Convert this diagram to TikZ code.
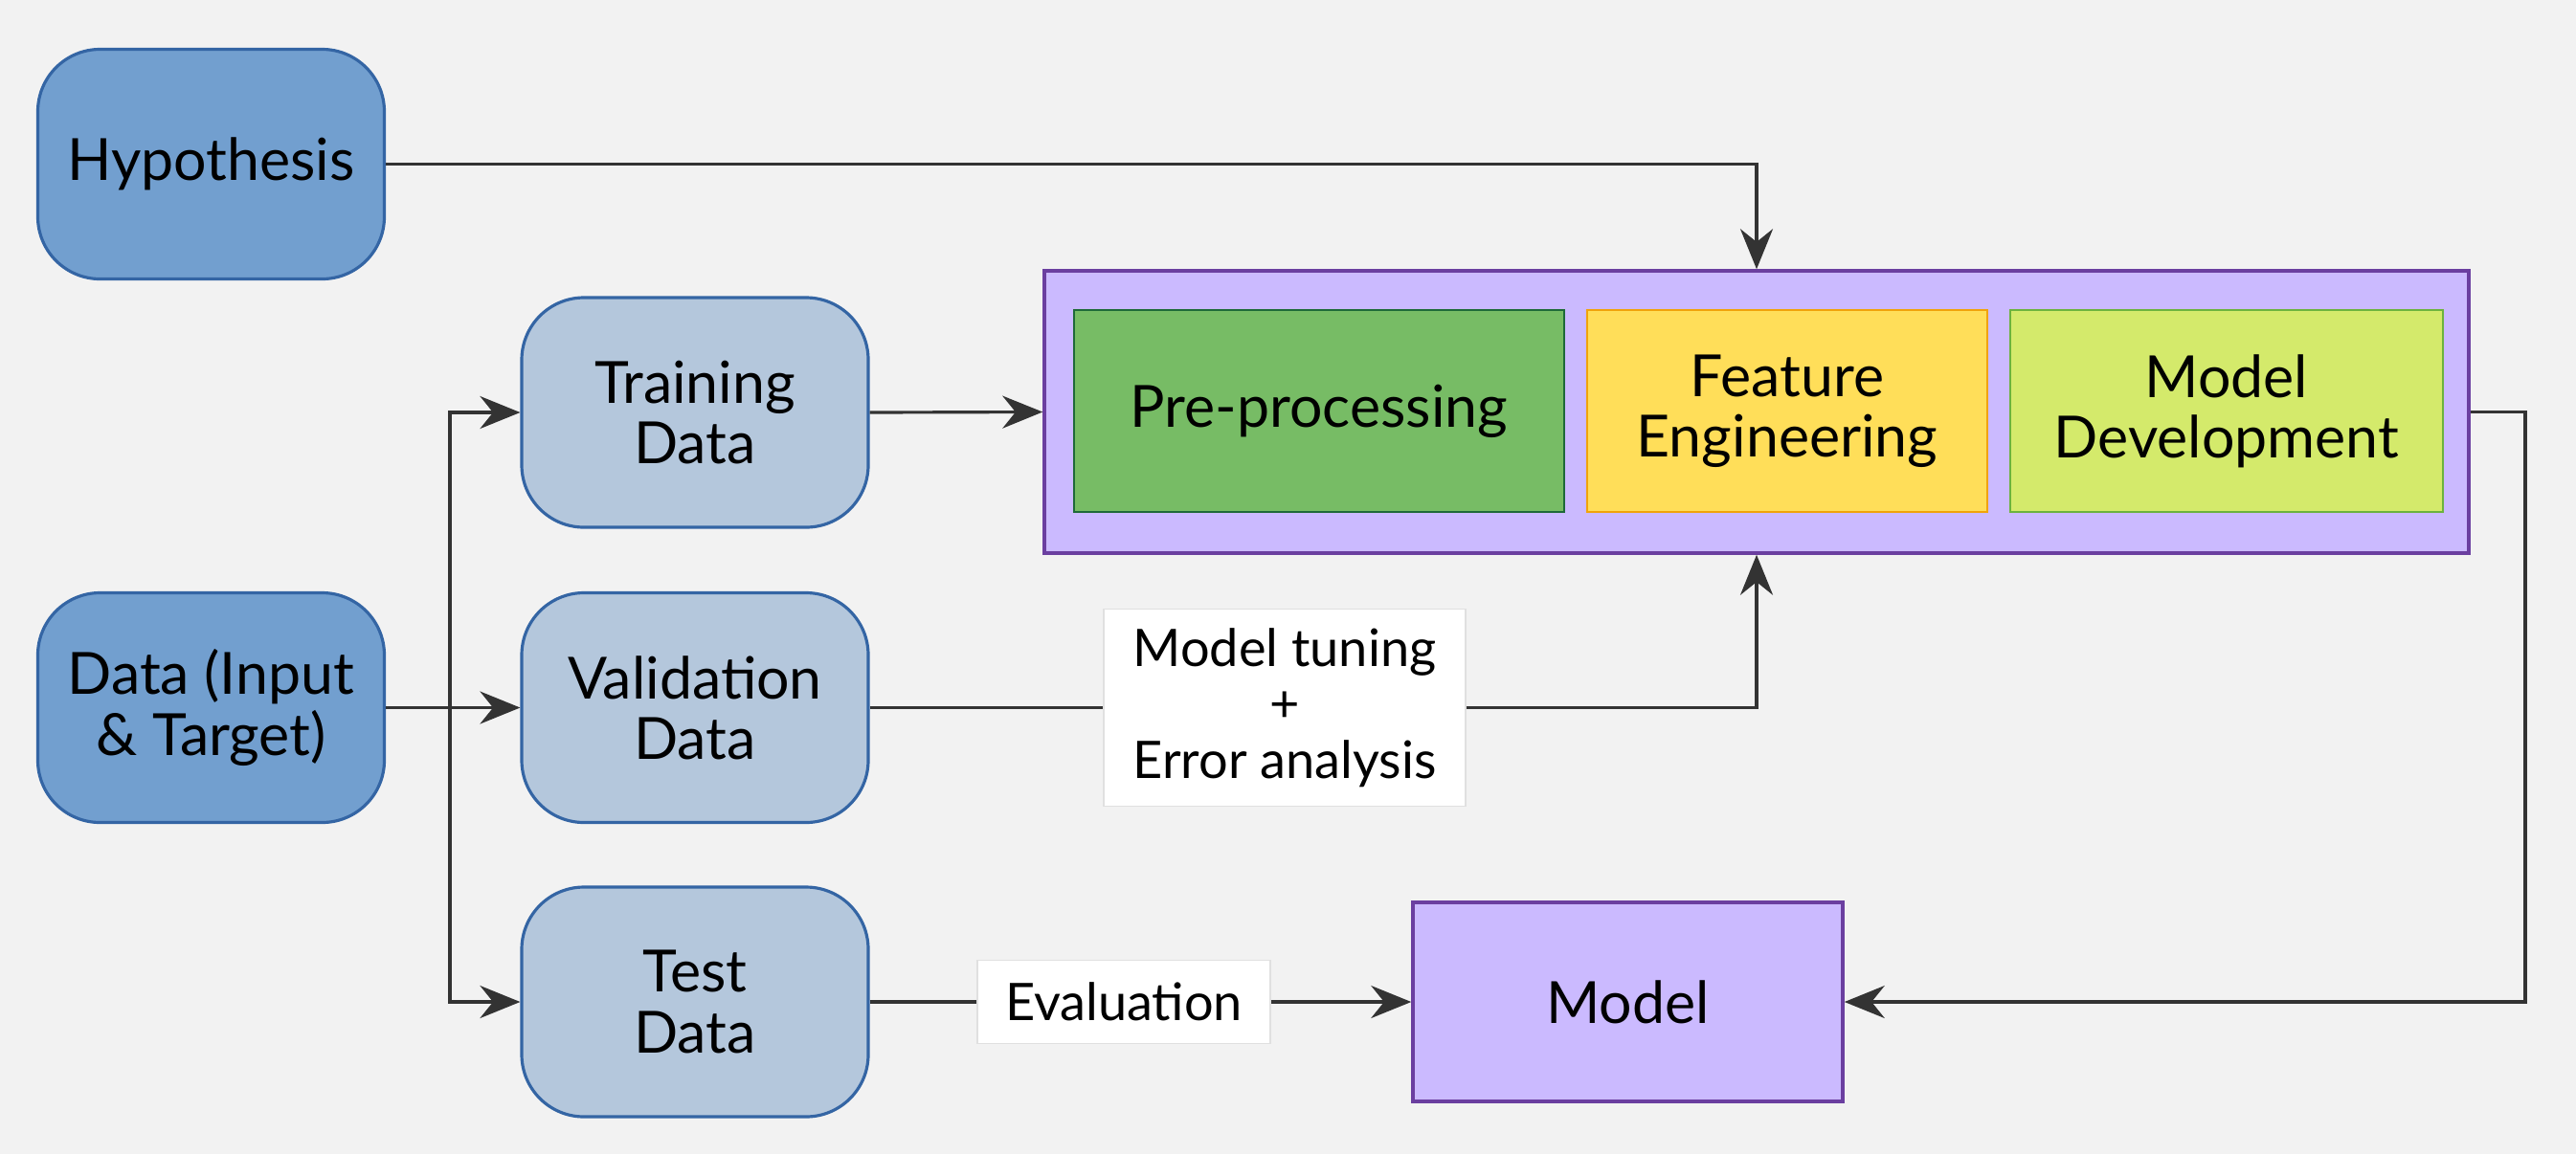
\documentclass[tikz,border=0pt]{standalone}
\usepackage{fontspec}
\setmainfont{Lato}
\usetikzlibrary{arrows.meta}

\definecolor{fondo}{HTML}{F2F2F2}
\definecolor{azul}{HTML}{729FCF}
\definecolor{azulclaro}{HTML}{B4C7DC}
\definecolor{azulborde}{HTML}{3465A4}
\definecolor{lila}{HTML}{CBBAFF}
\definecolor{lilaborde}{HTML}{6B3FA0}
\definecolor{verde}{HTML}{77BC65}
\definecolor{verdeborde}{HTML}{1E6A39}
\definecolor{amarillo}{HTML}{FFDE59}
\definecolor{amarilloborde}{HTML}{F0A30A}
\definecolor{lima}{HTML}{D4EA6B}
\definecolor{limaborde}{HTML}{6CB33E}
\definecolor{flecha}{HTML}{333333}

\begin{document}
\begin{tikzpicture}[>={Stealth[length=4.2mm, width=3.4mm]}, line width=0.9pt,
  caja/.style={draw=azulborde, rounded corners=6.5mm, minimum width=3.62cm,
    minimum height=2.4cm, align=center, font=\fontsize{17.3}{18}\selectfont},
  bloque/.style={draw, line width=0.7pt, minimum height=2.11cm, align=center,
    font=\fontsize{17.3}{18}\selectfont},
  etiqueta/.style={draw=black!12, fill=white, line width=0.5pt, align=center,
    font=\fontsize{15.4}{16.6}\selectfont}]
  \fill[fondo] (0,0) rectangle (26.91,-12.06);
  \useasboundingbox (0,0) rectangle (26.91,-12.06);
  % entradas
  \node[caja, fill=azul] (hyp) at (2.205,-1.715) {Hypothesis};
  \node[caja, fill=azul] (data) at (2.205,-7.395) {Data (Input\\\& Target)};
  \node[caja, fill=azulclaro] (train) at (7.26,-4.31) {Training\\Data};
  \node[caja, fill=azulclaro] (valid) at (7.26,-7.395) {Validation\\Data};
  \node[caja, fill=azulclaro] (test) at (7.26,-10.47) {Test\\Data};
  % bloque principal
  \node[draw=lilaborde, fill=lila, line width=1pt, minimum width=14.88cm,
    minimum height=2.95cm] (pipe) at (18.35,-4.305) {};
  \node[bloque, draw=verdeborde, fill=verde, minimum width=5.12cm] (pre) at (13.78,-4.295) {Pre-processing};
  \node[bloque, draw=amarilloborde, fill=amarillo, minimum width=4.18cm] (feat) at (18.67,-4.295) {Feature\\Engineering};
  \node[bloque, draw=limaborde, fill=lima, minimum width=4.52cm] (dev) at (23.26,-4.295) {Model\\Development};
  \node[draw=lilaborde, fill=lila, line width=1pt, minimum width=4.49cm,
    minimum height=2.08cm, font=\fontsize{17.3}{18}\selectfont] (model) at (17.005,-10.47) {Model};
  % etiquetas
  \node[etiqueta, minimum width=3.78cm, minimum height=2.06cm] (tune) at (13.42,-7.395) {Model tuning\\+\\Error analysis};
  \node[etiqueta, minimum width=3.06cm, minimum height=0.87cm] (eval) at (11.74,-10.47) {Evaluation};
  % flechas
  \coordinate (split) at (4.70,-7.395);
  \coordinate (vuelta) at (26.38,-4.305);
  \begin{scope}[draw=flecha]
    \draw[->] (hyp.east) -| (pipe.north);
    \draw (data.east) -- (split);
    \draw[->] (split) |- (train.west);
    \draw[->] (split) -- (valid.west);
    \draw[->] (split) |- (test.west);
    \draw[->] (train.east) -- (pipe.west);
    \draw (valid.east) -- (tune.west);
    \draw[->] (tune.east) -| (pipe.south);
    \draw (test.east) -- (eval.west);
    \draw[->] (eval.east) -- (model.west);
    \draw[->] (pipe.east) -- (vuelta) |- (model.east);
  \end{scope}
\end{tikzpicture}
\end{document}
